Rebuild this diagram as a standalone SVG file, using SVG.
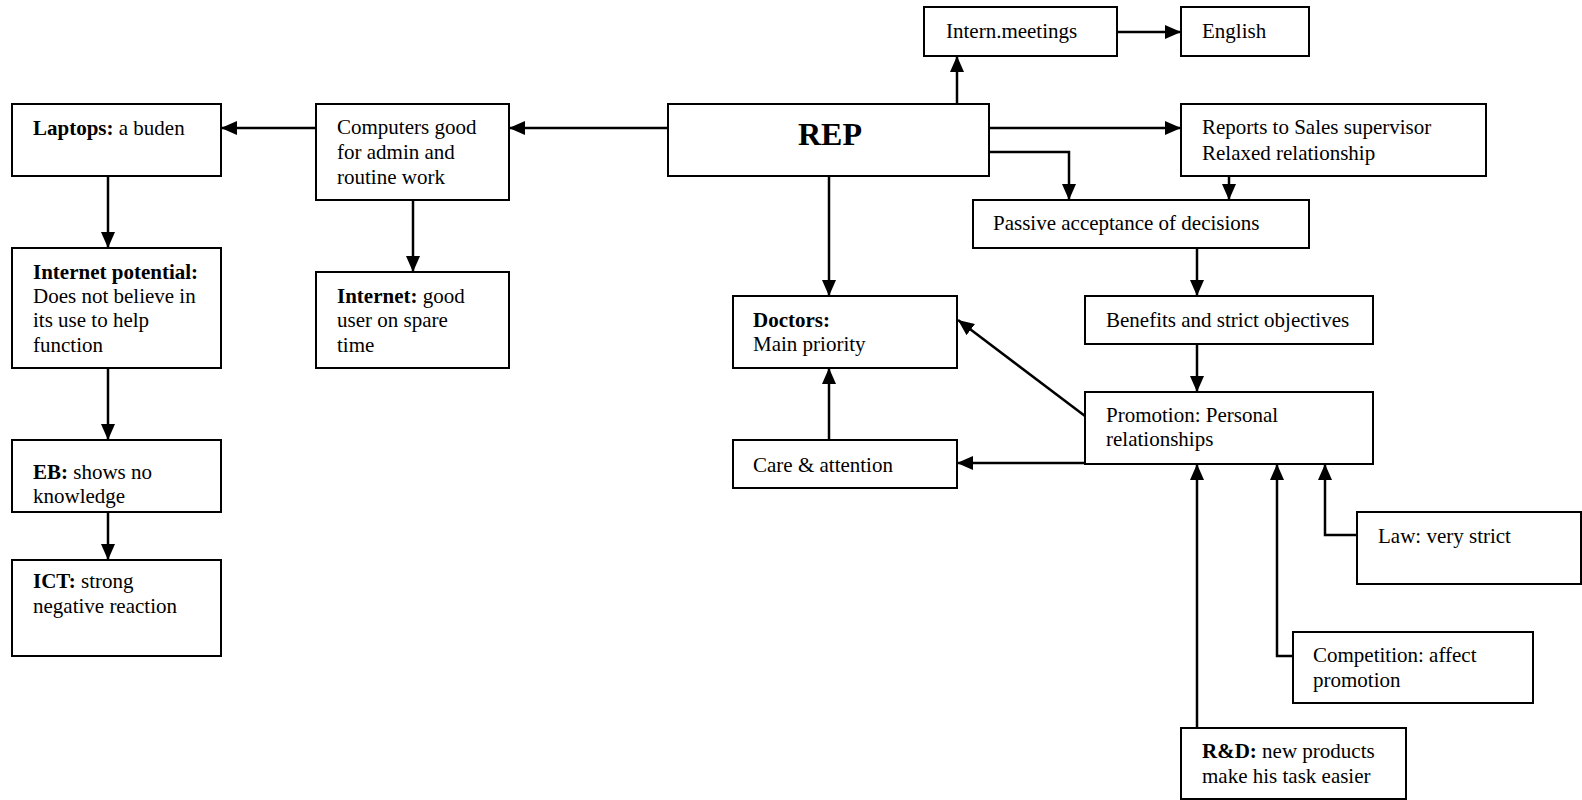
<svg xmlns="http://www.w3.org/2000/svg" width="1582" height="800" viewBox="0 0 1582 800">
  <style>
    .box { fill: #ffffff; stroke: #000000; stroke-width: 2; }
    .lbl { font-family: "Liberation Serif", "Times New Roman", serif; font-size: 21px; fill: #000000; }
    .b { font-weight: bold; }
    .title { font-family: "Liberation Serif", "Times New Roman", serif; font-size: 32px; font-weight: bold; fill: #000000; }
    .edge { fill: none; stroke: #000000; stroke-width: 2.5; marker-end: url(#arrow); }
  </style>
  <defs>
    <marker id="arrow" markerUnits="userSpaceOnUse" markerWidth="16" markerHeight="14" refX="16" refY="7" orient="auto">
      <path d="M0,0 L16,7 L0,14 z" fill="#000000"/>
    </marker>
  </defs>
  <rect width="1582" height="800" fill="#ffffff"/>

  <g id="connectors">
    <path class="edge" d="M668,128 H509"/>
    <path class="edge" d="M316,128 H221"/>
    <path class="edge" d="M108,176 V248"/>
    <path class="edge" d="M108,368 V440"/>
    <path class="edge" d="M108,512 V560"/>
    <path class="edge" d="M413,200 V272"/>
    <path class="edge" d="M957,104 V56"/>
    <path class="edge" d="M1117,32 H1181"/>
    <path class="edge" d="M989,128 H1181"/>
    <path class="edge" d="M989,152 H1069 V200"/>
    <path class="edge" d="M1229,176 V200"/>
    <path class="edge" d="M1197,248 V296"/>
    <path class="edge" d="M1197,344 V392"/>
    <path class="edge" d="M829,176 V296"/>
    <path class="edge" d="M829,440 V368"/>
    <path class="edge" d="M1085,463 H957"/>
    <path class="edge" d="M1085,416 L958,320"/>
    <path class="edge" d="M1197,728 V464"/>
    <path class="edge" d="M1293,656 H1277 V464"/>
    <path class="edge" d="M1357,535 H1325 V464"/>
  </g>

  <g id="laptops">
    <rect class="box" x="12" y="104" width="209" height="72"/>
    <text class="lbl" x="33" y="135"><tspan class="b">Laptops:</tspan> a buden</text>
  </g>
  <g id="computers">
    <rect class="box" x="316" y="104" width="193" height="96"/>
    <text class="lbl" x="337" y="134">Computers good</text>
    <text class="lbl" x="337" y="159">for admin and</text>
    <text class="lbl" x="337" y="184">routine work</text>
  </g>
  <g id="internet-potential">
    <rect class="box" x="12" y="248" width="209" height="120"/>
    <text class="lbl b" x="33" y="279">Internet potential:</text>
    <text class="lbl" x="33" y="303">Does not believe in</text>
    <text class="lbl" x="33" y="327">its use to help</text>
    <text class="lbl" x="33" y="352">function</text>
  </g>
  <g id="internet">
    <rect class="box" x="316" y="272" width="193" height="96"/>
    <text class="lbl" x="337" y="303"><tspan class="b">Internet:</tspan> good</text>
    <text class="lbl" x="337" y="327">user on spare</text>
    <text class="lbl" x="337" y="352">time</text>
  </g>
  <g id="eb">
    <rect class="box" x="12" y="440" width="209" height="72"/>
    <text class="lbl" x="33" y="479"><tspan class="b">EB:</tspan> shows no</text>
    <text class="lbl" x="33" y="503">knowledge</text>
  </g>
  <g id="ict">
    <rect class="box" x="12" y="560" width="209" height="96"/>
    <text class="lbl" x="33" y="588"><tspan class="b">ICT:</tspan> strong</text>
    <text class="lbl" x="33" y="613">negative reaction</text>
  </g>
  <g id="rep">
    <rect class="box" x="668" y="104" width="321" height="72"/>
    <text class="title" x="830" y="145" text-anchor="middle">REP</text>
  </g>
  <g id="intern-meetings">
    <rect class="box" x="924" y="7" width="193" height="49"/>
    <text class="lbl" x="946" y="38">Intern.meetings</text>
  </g>
  <g id="english">
    <rect class="box" x="1181" y="7" width="128" height="49"/>
    <text class="lbl" x="1202" y="38">English</text>
  </g>
  <g id="reports">
    <rect class="box" x="1181" y="104" width="305" height="72"/>
    <text class="lbl" x="1202" y="134">Reports to Sales supervisor</text>
    <text class="lbl" x="1202" y="160">Relaxed relationship</text>
  </g>
  <g id="passive">
    <rect class="box" x="973" y="200" width="336" height="48"/>
    <text class="lbl" x="993" y="230">Passive acceptance of decisions</text>
  </g>
  <g id="doctors">
    <rect class="box" x="733" y="296" width="224" height="72"/>
    <text class="lbl b" x="753" y="327">Doctors:</text>
    <text class="lbl" x="753" y="351">Main priority</text>
  </g>
  <g id="benefits">
    <rect class="box" x="1085" y="296" width="288" height="48"/>
    <text class="lbl" x="1106" y="327">Benefits and strict objectives</text>
  </g>
  <g id="promotion">
    <rect class="box" x="1085" y="392" width="288" height="72"/>
    <text class="lbl" x="1106" y="422">Promotion: Personal</text>
    <text class="lbl" x="1106" y="446">relationships</text>
  </g>
  <g id="care">
    <rect class="box" x="733" y="440" width="224" height="48"/>
    <text class="lbl" x="753" y="472">Care &amp; attention</text>
  </g>
  <g id="law">
    <rect class="box" x="1357" y="512" width="224" height="72"/>
    <text class="lbl" x="1378" y="543">Law: very strict</text>
  </g>
  <g id="competition">
    <rect class="box" x="1293" y="632" width="240" height="71"/>
    <text class="lbl" x="1313" y="662">Competition: affect</text>
    <text class="lbl" x="1313" y="687">promotion</text>
  </g>
  <g id="rnd">
    <rect class="box" x="1181" y="728" width="225" height="71"/>
    <text class="lbl" x="1202" y="758"><tspan class="b">R&amp;D:</tspan> new products</text>
    <text class="lbl" x="1202" y="783">make his task easier</text>
  </g>
</svg>
